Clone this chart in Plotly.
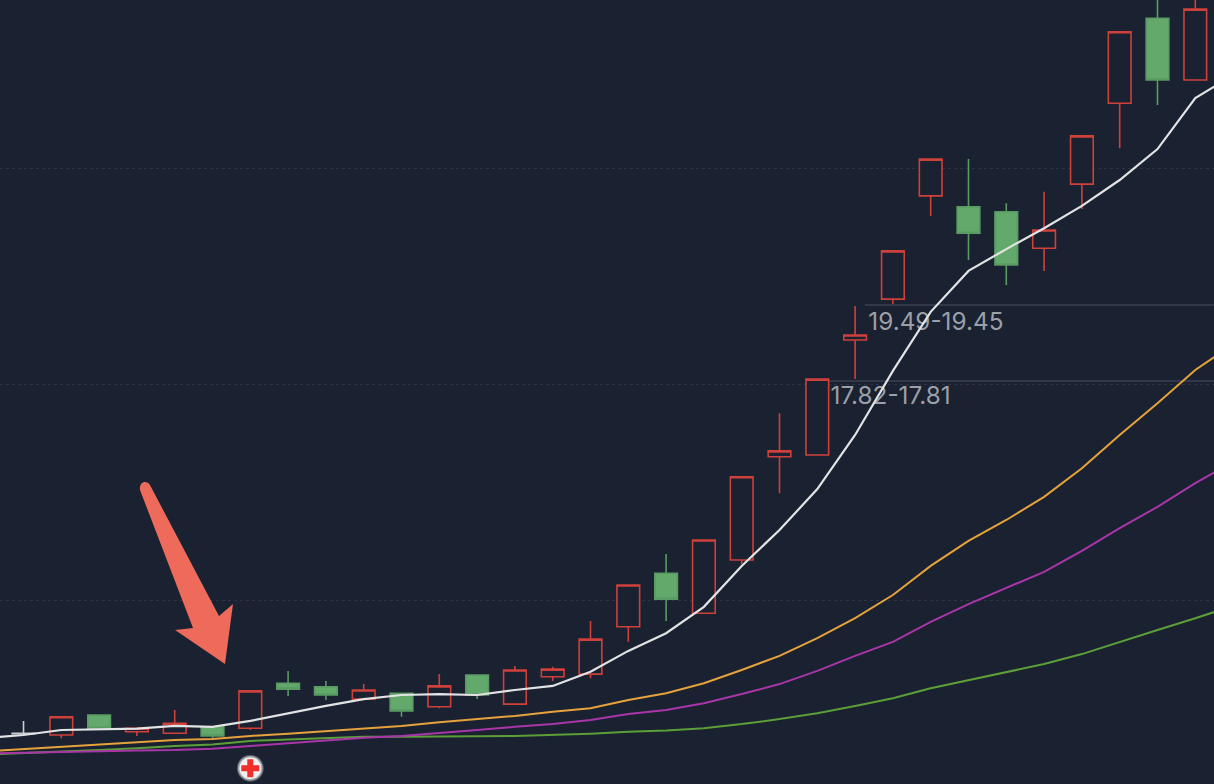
import plotly.graph_objects as go

BG = "#1a2130"
UP = "#d0403a"
DOWN = "#62a96b"
DOWN_LINE = "#5a9a63"

# Candles (index 0 is the grey doji, handled by the same arrays)
idx = list(range(32))
opens = [10.06,10.03,10.47,10.10,10.07,10.21,10.18,11.17,11.09,10.82,10.95,10.65,11.35,10.71,11.31,11.37,
         12.41,13.59,12.71,13.88,16.15,16.19,18.72,19.62,21.89,21.65,21.54,20.74,22.15,23.93,25.80,24.44]
closes = [10.07,10.43,10.18,10.18,10.29,10.01,11.00,11.04,10.91,11.02,10.56,11.11,10.91,11.46,11.48,12.14,
          13.33,13.02,14.32,15.71,16.28,17.86,18.83,20.68,22.70,21.07,20.37,21.14,23.21,25.50,24.44,26.00]
highs = [10.34,10.43,10.47,10.18,10.58,10.21,11.00,11.44,11.22,11.15,10.95,11.37,11.35,11.55,11.53,12.54,
         13.33,14.01,14.32,15.71,17.11,17.86,19.47,20.68,22.70,22.70,21.73,21.98,23.21,25.50,26.42,26.40]
lows = [10.03,9.96,10.16,10.01,10.05,9.96,10.14,10.89,10.80,10.82,10.43,10.62,10.82,10.71,11.22,11.28,
        12.08,12.54,12.71,13.79,15.35,16.19,17.86,19.51,21.45,20.48,19.93,20.24,21.60,22.94,23.89,24.44]

# Moving averages, one point before and after the visible candles
ma_idx = list(range(-1, 33))
ma_white = [9.96,10.03,10.14,10.16,10.17,10.23,10.21,10.34,10.51,10.67,10.82,10.91,10.93,10.91,11.02,11.11,11.42,
            11.88,12.27,12.85,13.75,14.54,15.44,16.63,18.04,19.34,20.24,20.72,21.18,21.67,22.24,22.92,24.04,24.55]
ma_orange = [9.67,9.72,9.78,9.83,9.88,9.92,9.94,10.01,10.06,10.12,10.18,10.23,10.31,10.38,10.45,10.54,10.62,
             10.80,10.95,11.17,11.46,11.77,12.16,12.60,13.11,13.75,14.30,14.76,15.27,15.90,16.63,17.33,18.06,18.63]
ma_purple = [9.62,9.64,9.66,9.68,9.69,9.70,9.73,9.79,9.85,9.91,9.97,10.01,10.07,10.14,10.21,10.27,10.36,
             10.49,10.58,10.73,10.93,11.15,11.44,11.77,12.08,12.52,12.91,13.26,13.62,14.08,14.58,15.05,15.57,16.04]
ma_green = [9.60,9.63,9.66,9.70,9.74,9.79,9.82,9.90,9.93,9.96,9.99,9.99,9.99,10.00,10.01,10.03,10.06,
            10.10,10.13,10.18,10.27,10.38,10.51,10.67,10.84,11.06,11.24,11.42,11.59,11.81,12.08,12.34,12.60,12.87]

grid_vals = [13.00, 17.75, 22.50]
level_prices = [19.49, 17.82]
level_starts = [22.26, 21.28]
level_labels = ["19.49-19.45", "17.82-17.81"]
level_label_x = [22.35, 21.35]
level_label_y = [19.08, 17.45]
signal_x = [6]
signal_y = [9.30]

fig = go.Figure()

# grey doji
fig.add_trace(go.Candlestick(
    x=idx[:1], open=opens[:1], high=highs[:1], low=lows[:1], close=closes[:1],
    increasing=dict(line=dict(color="#c9cbcf", width=1.6), fillcolor="#c9cbcf"),
    decreasing=dict(line=dict(color="#c9cbcf", width=1.6), fillcolor="#c9cbcf"),
    hoverinfo="skip", showlegend=False))
fig.add_trace(go.Candlestick(
    x=idx[1:], open=opens[1:], high=highs[1:], low=lows[1:], close=closes[1:],
    increasing=dict(line=dict(color=UP, width=1.6), fillcolor=BG),
    decreasing=dict(line=dict(color=DOWN_LINE, width=1.6), fillcolor=DOWN),
    hoverinfo="skip", showlegend=False))

fig.add_trace(go.Scatter(
    x=level_label_x, y=level_label_y, text=level_labels, mode="text",
    textposition="middle right",
    textfont=dict(family="Inter, Roboto, sans-serif", size=24.3, color="#9b9fa8"),
    hoverinfo="skip", showlegend=False))

for vals, color, width in [(ma_green, "#5c9f38", 2), (ma_purple, "#a936a8", 2),
                           (ma_orange, "#e6a23c", 2), (ma_white, "#e2e3e4", 2.2)]:
    fig.add_trace(go.Scatter(x=ma_idx, y=vals, mode="lines",
                             line=dict(color=color, width=width),
                             hoverinfo="skip", showlegend=False))

# signal badge
for size, color in [(27, "rgba(255,255,255,0.22)"), (25, "rgba(255,255,255,0.45)"), (22, "#f0f0f0")]:
    fig.add_trace(go.Scatter(x=signal_x, y=signal_y, mode="markers",
                             marker=dict(symbol="circle", size=size, color=color, line=dict(width=0)),
                             hoverinfo="skip", showlegend=False))
fig.add_trace(go.Scatter(x=signal_x, y=signal_y, mode="markers",
                         marker=dict(symbol="cross", size=15, color="#ee2f2b", line=dict(width=0)),
                         hoverinfo="skip", showlegend=False))

shapes = []
for price, start in zip(level_prices, level_starts):
    shapes.append(dict(type="line", xref="x", yref="y", x0=start, x1=31.49, y0=price, y1=price,
                       line=dict(color="#3b4052", width=1.5), layer="below"))


# hand-drawn annotation arrow
def px(x, y):
    return f"{x/1214:.5f},{1-y/784:.5f}"


path = ("M " + px(225, 664) + " L " + px(233, 604) + " L " + px(219, 616) + " L " + px(150.5, 486)
        + " C " + px(148, 480) + " " + px(139, 480) + " " + px(140, 490)
        + " L " + px(193, 628) + " L " + px(175, 630) + " Z")
shapes.append(dict(type="path", xref="paper", yref="paper", path=path,
                   fillcolor="#ee6a5a", line=dict(width=0), layer="above"))

fig.update_layout(
    width=1214, height=784, margin=dict(l=0, r=0, t=0, b=0),
    paper_bgcolor=BG, plot_bgcolor=BG, showlegend=False,
    boxgap=0.40, boxgroupgap=0, shapes=shapes, hovermode=False,
    xaxis=dict(range=[-0.622, 31.495], visible=False, rangeslider=dict(visible=False), fixedrange=True),
    yaxis=dict(range=[8.952, 26.2], showticklabels=False, ticks="", zeroline=False, showline=False,
               tickmode="array", tickvals=grid_vals, showgrid=True,
               gridcolor="#2f3544", griddash="dot", gridwidth=1, fixedrange=True),
)

fig.write_html("out.html", config={"displayModeBar": False},
               post_script="document.body.style.margin='0';document.body.style.background='%s';" % BG)
